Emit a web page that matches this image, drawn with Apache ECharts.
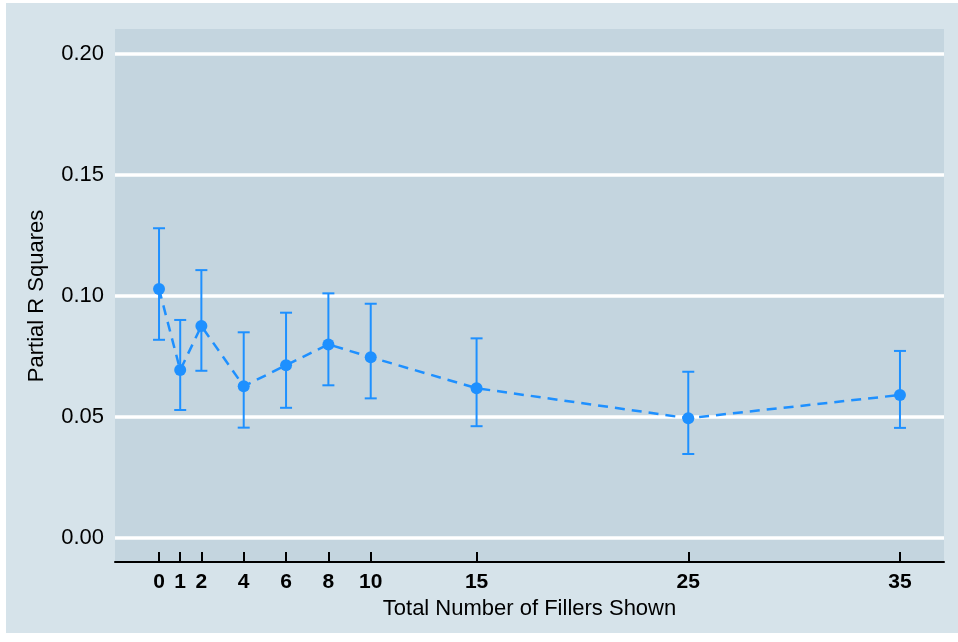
<!DOCTYPE html>
<html>
<head>
<meta charset="utf-8">
<script src="https://cdn.jsdelivr.net/npm/echarts@6/dist/echarts.min.js"></script>
<style>
  body { margin: 0; background: #fff; }
  #echart { width: 958px; height: 642px; }
</style>
</head>
<body>
<div id="echart"></div>
<script>
// values
var fillers = [0, 1, 2, 4, 6, 8, 10, 15, 25, 35];
var estimates = [0.1029, 0.0694, 0.0876, 0.0627, 0.0714, 0.0800, 0.0747, 0.0619, 0.0495, 0.0591];
var upper = [0.1280, 0.0901, 0.1107, 0.0850, 0.0931, 0.1011, 0.0968, 0.0825, 0.0687, 0.0773];
var lower = [0.0819, 0.0529, 0.0691, 0.0456, 0.0538, 0.0631, 0.0577, 0.0462, 0.0347, 0.0455];
var yTicks = [0, 0.05, 0.10, 0.15, 0.20];

var blue = '#1e90ff';
var font = '"Liberation Sans", Arial, sans-serif';

var chart = echarts.init(document.getElementById('echart'));

var pointData = fillers.map(function (f, i) { return [f, estimates[i]]; });
var barData = fillers.map(function (f, i) { return [f, lower[i], upper[i]]; });

var option = {
    backgroundColor: '#ffffff',
    animation: false,
    textStyle: { fontFamily: font },
    graphic: [
        { type: 'rect', z: -20, silent: true, shape: { x: 6, y: 3, width: 952, height: 630 }, style: { fill: '#d6e3ea' } },
        { type: 'rect', z: -10, silent: true, shape: { x: 115, y: 29, width: 829, height: 533 }, style: { fill: '#c4d5df' } }
    ],
    grid: {
        left: 115,
        right: 14,
        top: 54,
        bottom: 104
    },
    xAxis: {
        type: 'value',
        min: -2.08,
        max: 37.08,
        offset: 24,
        name: 'Total Number of Fillers Shown',
        nameLocation: 'middle',
        nameGap: 34,
        nameTextStyle: { fontSize: 22, color: '#000', fontFamily: font },
        axisLine: { show: true, onZero: false, lineStyle: { color: '#000', width: 2 } },
        axisTick: { show: true, inside: true, length: 10, customValues: fillers, lineStyle: { color: '#000', width: 2 } },
        axisLabel: {
            customValues: fillers,
            margin: 10,
            fontSize: 21,
            fontWeight: 'bold',
            color: '#000',
            fontFamily: font
        },
        splitLine: { show: false }
    },
    yAxis: {
        type: 'value',
        min: 0,
        max: 0.2,
        interval: 0.05,
        name: 'Partial R Squares',
        nameLocation: 'middle',
        nameGap: 67,
        nameTextStyle: { fontSize: 22, color: '#000', fontFamily: font },
        axisLine: { show: false },
        axisTick: { show: false },
        axisLabel: {
            margin: 11,
            fontSize: 22,
            color: '#000',
            fontFamily: font,
            customValues: yTicks,
            formatter: function (v) { return v.toFixed(2); }
        },
        splitLine: { show: true, lineStyle: { color: '#ffffff', width: 3.5 } }
    },
    series: [
        {
            type: 'custom',
            z: 3,
            data: barData,
            encode: { x: 0, y: [1, 2] },
            renderItem: function (params, api) {
                var top = api.coord([api.value(0), api.value(2)]);
                var bot = api.coord([api.value(0), api.value(1)]);
                var w = 6;
                var st = { stroke: blue, lineWidth: 2 };
                return {
                    type: 'group',
                    children: [
                        { type: 'line', shape: { x1: top[0], y1: top[1], x2: bot[0], y2: bot[1] }, style: st },
                        { type: 'line', shape: { x1: top[0] - w, y1: top[1], x2: top[0] + w, y2: top[1] }, style: st },
                        { type: 'line', shape: { x1: bot[0] - w, y1: bot[1], x2: bot[0] + w, y2: bot[1] }, style: st }
                    ]
                };
            }
        },
        {
            type: 'line',
            z: 4,
            data: pointData,
            symbol: 'circle',
            symbolSize: 12,
            itemStyle: { color: blue },
            lineStyle: { color: blue, width: 2.5, type: [10, 7] }
        }
    ]
};
chart.setOption(option);
</script>
</body>
</html>
